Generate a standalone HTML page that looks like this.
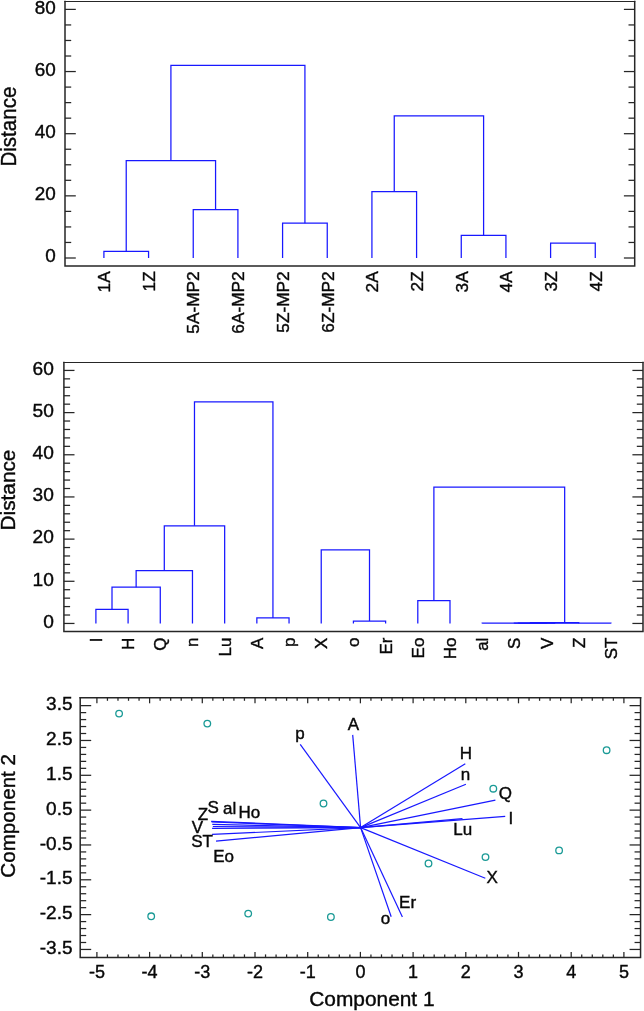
<!DOCTYPE html>
<html><head><meta charset="utf-8"><title>charts</title>
<style>
html,body{margin:0;padding:0;background:#fff;}
body{width:644px;height:1011px;overflow:hidden;}
svg{display:block;will-change:transform;}
text{font-family:"Liberation Sans",sans-serif;fill:#080808;stroke:#080808;stroke-width:0.4px;}
</style></head><body>
<svg width="644" height="1011" viewBox="0 0 644 1011">
<rect x="0" y="0" width="644" height="1011" fill="#fff"/>
<path d="M65.00,1.50V266.00H634.70V1.50" fill="none" stroke="#262626" stroke-width="1.5" stroke-linecap="square"/>
<path d="M65.00,1.50H634.70" fill="none" stroke="#262626" stroke-width="1.15" stroke-linecap="square"/>
<line x1="65.00" y1="258.00" x2="75.80" y2="258.00" stroke="#262626" stroke-width="1.25"/>
<line x1="634.70" y1="258.00" x2="623.90" y2="258.00" stroke="#262626" stroke-width="1.25"/>
<text transform="translate(55.70 262.30) scale(0.995 1)" font-size="19.0" text-anchor="end" >0</text>
<line x1="65.00" y1="242.46" x2="71.20" y2="242.46" stroke="#262626" stroke-width="1.25"/>
<line x1="634.70" y1="242.46" x2="628.50" y2="242.46" stroke="#262626" stroke-width="1.25"/>
<line x1="65.00" y1="226.93" x2="71.20" y2="226.93" stroke="#262626" stroke-width="1.25"/>
<line x1="634.70" y1="226.93" x2="628.50" y2="226.93" stroke="#262626" stroke-width="1.25"/>
<line x1="65.00" y1="211.39" x2="71.20" y2="211.39" stroke="#262626" stroke-width="1.25"/>
<line x1="634.70" y1="211.39" x2="628.50" y2="211.39" stroke="#262626" stroke-width="1.25"/>
<line x1="65.00" y1="195.85" x2="75.80" y2="195.85" stroke="#262626" stroke-width="1.25"/>
<line x1="634.70" y1="195.85" x2="623.90" y2="195.85" stroke="#262626" stroke-width="1.25"/>
<text transform="translate(55.70 200.15) scale(0.995 1)" font-size="19.0" text-anchor="end" >20</text>
<line x1="65.00" y1="180.31" x2="71.20" y2="180.31" stroke="#262626" stroke-width="1.25"/>
<line x1="634.70" y1="180.31" x2="628.50" y2="180.31" stroke="#262626" stroke-width="1.25"/>
<line x1="65.00" y1="164.78" x2="71.20" y2="164.78" stroke="#262626" stroke-width="1.25"/>
<line x1="634.70" y1="164.78" x2="628.50" y2="164.78" stroke="#262626" stroke-width="1.25"/>
<line x1="65.00" y1="149.24" x2="71.20" y2="149.24" stroke="#262626" stroke-width="1.25"/>
<line x1="634.70" y1="149.24" x2="628.50" y2="149.24" stroke="#262626" stroke-width="1.25"/>
<line x1="65.00" y1="133.70" x2="75.80" y2="133.70" stroke="#262626" stroke-width="1.25"/>
<line x1="634.70" y1="133.70" x2="623.90" y2="133.70" stroke="#262626" stroke-width="1.25"/>
<text transform="translate(55.70 138.00) scale(0.995 1)" font-size="19.0" text-anchor="end" >40</text>
<line x1="65.00" y1="118.16" x2="71.20" y2="118.16" stroke="#262626" stroke-width="1.25"/>
<line x1="634.70" y1="118.16" x2="628.50" y2="118.16" stroke="#262626" stroke-width="1.25"/>
<line x1="65.00" y1="102.62" x2="71.20" y2="102.62" stroke="#262626" stroke-width="1.25"/>
<line x1="634.70" y1="102.62" x2="628.50" y2="102.62" stroke="#262626" stroke-width="1.25"/>
<line x1="65.00" y1="87.09" x2="71.20" y2="87.09" stroke="#262626" stroke-width="1.25"/>
<line x1="634.70" y1="87.09" x2="628.50" y2="87.09" stroke="#262626" stroke-width="1.25"/>
<line x1="65.00" y1="71.55" x2="75.80" y2="71.55" stroke="#262626" stroke-width="1.25"/>
<line x1="634.70" y1="71.55" x2="623.90" y2="71.55" stroke="#262626" stroke-width="1.25"/>
<text transform="translate(55.70 75.85) scale(0.995 1)" font-size="19.0" text-anchor="end" >60</text>
<line x1="65.00" y1="56.01" x2="71.20" y2="56.01" stroke="#262626" stroke-width="1.25"/>
<line x1="634.70" y1="56.01" x2="628.50" y2="56.01" stroke="#262626" stroke-width="1.25"/>
<line x1="65.00" y1="40.47" x2="71.20" y2="40.47" stroke="#262626" stroke-width="1.25"/>
<line x1="634.70" y1="40.47" x2="628.50" y2="40.47" stroke="#262626" stroke-width="1.25"/>
<line x1="65.00" y1="24.94" x2="71.20" y2="24.94" stroke="#262626" stroke-width="1.25"/>
<line x1="634.70" y1="24.94" x2="628.50" y2="24.94" stroke="#262626" stroke-width="1.25"/>
<line x1="65.00" y1="9.40" x2="75.80" y2="9.40" stroke="#262626" stroke-width="1.25"/>
<line x1="634.70" y1="9.40" x2="623.90" y2="9.40" stroke="#262626" stroke-width="1.25"/>
<text transform="translate(55.70 13.70) scale(0.995 1)" font-size="19.0" text-anchor="end" >80</text>
<text transform="translate(15.80 126.60) rotate(-90) scale(0.952 1)" font-size="21.6" text-anchor="middle" >Distance</text>
<text transform="translate(110.15 271.30) rotate(-90) scale(1.047 1)" font-size="16.5" text-anchor="end" >1A</text>
<text transform="translate(154.82 271.30) rotate(-90) scale(1.047 1)" font-size="16.5" text-anchor="end" >1Z</text>
<text transform="translate(199.49 271.30) rotate(-90) scale(1.047 1)" font-size="16.5" text-anchor="end" >5A-MP2</text>
<text transform="translate(244.16 271.30) rotate(-90) scale(1.047 1)" font-size="16.5" text-anchor="end" >6A-MP2</text>
<text transform="translate(288.83 271.30) rotate(-90) scale(1.047 1)" font-size="16.5" text-anchor="end" >5Z-MP2</text>
<text transform="translate(333.50 271.30) rotate(-90) scale(1.047 1)" font-size="16.5" text-anchor="end" >6Z-MP2</text>
<text transform="translate(378.17 271.30) rotate(-90) scale(1.047 1)" font-size="16.5" text-anchor="end" >2A</text>
<text transform="translate(422.84 271.30) rotate(-90) scale(1.047 1)" font-size="16.5" text-anchor="end" >2Z</text>
<text transform="translate(467.51 271.30) rotate(-90) scale(1.047 1)" font-size="16.5" text-anchor="end" >3A</text>
<text transform="translate(512.18 271.30) rotate(-90) scale(1.047 1)" font-size="16.5" text-anchor="end" >4A</text>
<text transform="translate(556.85 271.30) rotate(-90) scale(1.047 1)" font-size="16.5" text-anchor="end" >3Z</text>
<text transform="translate(601.52 271.30) rotate(-90) scale(1.047 1)" font-size="16.5" text-anchor="end" >4Z</text>
<polyline points="103.90,258.00 103.90,251.47 148.57,251.47 148.57,258.00" fill="none" stroke="#1818ff" stroke-width="1.25"/>
<polyline points="193.24,258.00 193.24,209.52 237.91,209.52 237.91,258.00" fill="none" stroke="#1818ff" stroke-width="1.25"/>
<polyline points="282.58,258.00 282.58,223.20 327.25,223.20 327.25,258.00" fill="none" stroke="#1818ff" stroke-width="1.25"/>
<polyline points="126.23,251.47 126.23,160.58 215.57,160.58 215.57,209.52" fill="none" stroke="#1818ff" stroke-width="1.25"/>
<polyline points="170.91,160.58 170.91,65.34 304.92,65.34 304.92,223.20" fill="none" stroke="#1818ff" stroke-width="1.25"/>
<polyline points="371.92,258.00 371.92,191.50 416.59,191.50 416.59,258.00" fill="none" stroke="#1818ff" stroke-width="1.25"/>
<polyline points="461.26,258.00 461.26,235.47 505.93,235.47 505.93,258.00" fill="none" stroke="#1818ff" stroke-width="1.25"/>
<polyline points="394.25,191.50 394.25,115.83 483.60,115.83 483.60,235.47" fill="none" stroke="#1818ff" stroke-width="1.25"/>
<polyline points="550.60,258.00 550.60,243.24 595.27,243.24 595.27,258.00" fill="none" stroke="#1818ff" stroke-width="1.25"/>
<path d="M63.90,362.50V631.45H643.00V362.50" fill="none" stroke="#262626" stroke-width="1.5" stroke-linecap="square"/>
<path d="M63.90,362.50H643.00" fill="none" stroke="#262626" stroke-width="1.15" stroke-linecap="square"/>
<line x1="63.90" y1="623.45" x2="74.50" y2="623.45" stroke="#262626" stroke-width="1.25"/>
<line x1="643.00" y1="623.45" x2="632.40" y2="623.45" stroke="#262626" stroke-width="1.25"/>
<text transform="translate(53.90 627.75) scale(1.04 1)" font-size="18.4" text-anchor="end" >0</text>
<line x1="63.90" y1="615.02" x2="70.10" y2="615.02" stroke="#262626" stroke-width="1.25"/>
<line x1="643.00" y1="615.02" x2="636.80" y2="615.02" stroke="#262626" stroke-width="1.25"/>
<line x1="63.90" y1="606.58" x2="70.10" y2="606.58" stroke="#262626" stroke-width="1.25"/>
<line x1="643.00" y1="606.58" x2="636.80" y2="606.58" stroke="#262626" stroke-width="1.25"/>
<line x1="63.90" y1="598.15" x2="70.10" y2="598.15" stroke="#262626" stroke-width="1.25"/>
<line x1="643.00" y1="598.15" x2="636.80" y2="598.15" stroke="#262626" stroke-width="1.25"/>
<line x1="63.90" y1="589.71" x2="70.10" y2="589.71" stroke="#262626" stroke-width="1.25"/>
<line x1="643.00" y1="589.71" x2="636.80" y2="589.71" stroke="#262626" stroke-width="1.25"/>
<line x1="63.90" y1="581.28" x2="74.50" y2="581.28" stroke="#262626" stroke-width="1.25"/>
<line x1="643.00" y1="581.28" x2="632.40" y2="581.28" stroke="#262626" stroke-width="1.25"/>
<text transform="translate(53.90 585.58) scale(1.04 1)" font-size="18.4" text-anchor="end" >10</text>
<line x1="63.90" y1="572.85" x2="70.10" y2="572.85" stroke="#262626" stroke-width="1.25"/>
<line x1="643.00" y1="572.85" x2="636.80" y2="572.85" stroke="#262626" stroke-width="1.25"/>
<line x1="63.90" y1="564.41" x2="70.10" y2="564.41" stroke="#262626" stroke-width="1.25"/>
<line x1="643.00" y1="564.41" x2="636.80" y2="564.41" stroke="#262626" stroke-width="1.25"/>
<line x1="63.90" y1="555.98" x2="70.10" y2="555.98" stroke="#262626" stroke-width="1.25"/>
<line x1="643.00" y1="555.98" x2="636.80" y2="555.98" stroke="#262626" stroke-width="1.25"/>
<line x1="63.90" y1="547.54" x2="70.10" y2="547.54" stroke="#262626" stroke-width="1.25"/>
<line x1="643.00" y1="547.54" x2="636.80" y2="547.54" stroke="#262626" stroke-width="1.25"/>
<line x1="63.90" y1="539.11" x2="74.50" y2="539.11" stroke="#262626" stroke-width="1.25"/>
<line x1="643.00" y1="539.11" x2="632.40" y2="539.11" stroke="#262626" stroke-width="1.25"/>
<text transform="translate(53.90 543.41) scale(1.04 1)" font-size="18.4" text-anchor="end" >20</text>
<line x1="63.90" y1="530.68" x2="70.10" y2="530.68" stroke="#262626" stroke-width="1.25"/>
<line x1="643.00" y1="530.68" x2="636.80" y2="530.68" stroke="#262626" stroke-width="1.25"/>
<line x1="63.90" y1="522.24" x2="70.10" y2="522.24" stroke="#262626" stroke-width="1.25"/>
<line x1="643.00" y1="522.24" x2="636.80" y2="522.24" stroke="#262626" stroke-width="1.25"/>
<line x1="63.90" y1="513.81" x2="70.10" y2="513.81" stroke="#262626" stroke-width="1.25"/>
<line x1="643.00" y1="513.81" x2="636.80" y2="513.81" stroke="#262626" stroke-width="1.25"/>
<line x1="63.90" y1="505.37" x2="70.10" y2="505.37" stroke="#262626" stroke-width="1.25"/>
<line x1="643.00" y1="505.37" x2="636.80" y2="505.37" stroke="#262626" stroke-width="1.25"/>
<line x1="63.90" y1="496.94" x2="74.50" y2="496.94" stroke="#262626" stroke-width="1.25"/>
<line x1="643.00" y1="496.94" x2="632.40" y2="496.94" stroke="#262626" stroke-width="1.25"/>
<text transform="translate(53.90 501.24) scale(1.04 1)" font-size="18.4" text-anchor="end" >30</text>
<line x1="63.90" y1="488.51" x2="70.10" y2="488.51" stroke="#262626" stroke-width="1.25"/>
<line x1="643.00" y1="488.51" x2="636.80" y2="488.51" stroke="#262626" stroke-width="1.25"/>
<line x1="63.90" y1="480.07" x2="70.10" y2="480.07" stroke="#262626" stroke-width="1.25"/>
<line x1="643.00" y1="480.07" x2="636.80" y2="480.07" stroke="#262626" stroke-width="1.25"/>
<line x1="63.90" y1="471.64" x2="70.10" y2="471.64" stroke="#262626" stroke-width="1.25"/>
<line x1="643.00" y1="471.64" x2="636.80" y2="471.64" stroke="#262626" stroke-width="1.25"/>
<line x1="63.90" y1="463.20" x2="70.10" y2="463.20" stroke="#262626" stroke-width="1.25"/>
<line x1="643.00" y1="463.20" x2="636.80" y2="463.20" stroke="#262626" stroke-width="1.25"/>
<line x1="63.90" y1="454.77" x2="74.50" y2="454.77" stroke="#262626" stroke-width="1.25"/>
<line x1="643.00" y1="454.77" x2="632.40" y2="454.77" stroke="#262626" stroke-width="1.25"/>
<text transform="translate(53.90 459.07) scale(1.04 1)" font-size="18.4" text-anchor="end" >40</text>
<line x1="63.90" y1="446.34" x2="70.10" y2="446.34" stroke="#262626" stroke-width="1.25"/>
<line x1="643.00" y1="446.34" x2="636.80" y2="446.34" stroke="#262626" stroke-width="1.25"/>
<line x1="63.90" y1="437.90" x2="70.10" y2="437.90" stroke="#262626" stroke-width="1.25"/>
<line x1="643.00" y1="437.90" x2="636.80" y2="437.90" stroke="#262626" stroke-width="1.25"/>
<line x1="63.90" y1="429.47" x2="70.10" y2="429.47" stroke="#262626" stroke-width="1.25"/>
<line x1="643.00" y1="429.47" x2="636.80" y2="429.47" stroke="#262626" stroke-width="1.25"/>
<line x1="63.90" y1="421.03" x2="70.10" y2="421.03" stroke="#262626" stroke-width="1.25"/>
<line x1="643.00" y1="421.03" x2="636.80" y2="421.03" stroke="#262626" stroke-width="1.25"/>
<line x1="63.90" y1="412.60" x2="74.50" y2="412.60" stroke="#262626" stroke-width="1.25"/>
<line x1="643.00" y1="412.60" x2="632.40" y2="412.60" stroke="#262626" stroke-width="1.25"/>
<text transform="translate(53.90 416.90) scale(1.04 1)" font-size="18.4" text-anchor="end" >50</text>
<line x1="63.90" y1="404.17" x2="70.10" y2="404.17" stroke="#262626" stroke-width="1.25"/>
<line x1="643.00" y1="404.17" x2="636.80" y2="404.17" stroke="#262626" stroke-width="1.25"/>
<line x1="63.90" y1="395.73" x2="70.10" y2="395.73" stroke="#262626" stroke-width="1.25"/>
<line x1="643.00" y1="395.73" x2="636.80" y2="395.73" stroke="#262626" stroke-width="1.25"/>
<line x1="63.90" y1="387.30" x2="70.10" y2="387.30" stroke="#262626" stroke-width="1.25"/>
<line x1="643.00" y1="387.30" x2="636.80" y2="387.30" stroke="#262626" stroke-width="1.25"/>
<line x1="63.90" y1="378.86" x2="70.10" y2="378.86" stroke="#262626" stroke-width="1.25"/>
<line x1="643.00" y1="378.86" x2="636.80" y2="378.86" stroke="#262626" stroke-width="1.25"/>
<line x1="63.90" y1="370.43" x2="74.50" y2="370.43" stroke="#262626" stroke-width="1.25"/>
<line x1="643.00" y1="370.43" x2="632.40" y2="370.43" stroke="#262626" stroke-width="1.25"/>
<text transform="translate(53.90 374.73) scale(1.04 1)" font-size="18.4" text-anchor="end" >60</text>
<text transform="translate(14.50 490.00) rotate(-90) scale(1.045 1)" font-size="19.9" text-anchor="middle" >Distance</text>
<text transform="translate(101.90 637.60) rotate(-90)" font-size="17" text-anchor="end" >I</text>
<text transform="translate(134.09 637.60) rotate(-90)" font-size="17" text-anchor="end" >H</text>
<text transform="translate(166.28 637.60) rotate(-90)" font-size="17" text-anchor="end" >Q</text>
<text transform="translate(198.47 637.60) rotate(-90)" font-size="17" text-anchor="end" >n</text>
<text transform="translate(230.66 637.60) rotate(-90)" font-size="17" text-anchor="end" >Lu</text>
<text transform="translate(262.85 637.60) rotate(-90)" font-size="17" text-anchor="end" >A</text>
<text transform="translate(295.04 637.60) rotate(-90)" font-size="17" text-anchor="end" >p</text>
<text transform="translate(327.23 637.60) rotate(-90)" font-size="17" text-anchor="end" >X</text>
<text transform="translate(359.42 637.60) rotate(-90)" font-size="17" text-anchor="end" >o</text>
<text transform="translate(391.61 637.60) rotate(-90)" font-size="17" text-anchor="end" >Er</text>
<text transform="translate(423.80 637.60) rotate(-90)" font-size="17" text-anchor="end" >Eo</text>
<text transform="translate(455.99 637.60) rotate(-90)" font-size="17" text-anchor="end" >Ho</text>
<text transform="translate(488.18 637.60) rotate(-90)" font-size="17" text-anchor="end" >al</text>
<text transform="translate(520.37 637.60) rotate(-90)" font-size="17" text-anchor="end" >S</text>
<text transform="translate(552.56 637.60) rotate(-90)" font-size="17" text-anchor="end" >V</text>
<text transform="translate(584.75 637.60) rotate(-90)" font-size="17" text-anchor="end" >Z</text>
<text transform="translate(616.94 637.60) rotate(-90)" font-size="17" text-anchor="end" >ST</text>
<polyline points="95.90,623.45 95.90,609.32 128.09,609.32 128.09,623.45" fill="none" stroke="#1818ff" stroke-width="1.25"/>
<polyline points="112.00,609.32 112.00,587.18 160.28,587.18 160.28,623.45" fill="none" stroke="#1818ff" stroke-width="1.25"/>
<polyline points="136.14,587.18 136.14,570.74 192.47,570.74 192.47,623.45" fill="none" stroke="#1818ff" stroke-width="1.25"/>
<polyline points="164.30,570.74 164.30,525.78 224.66,525.78 224.66,623.45" fill="none" stroke="#1818ff" stroke-width="1.25"/>
<polyline points="256.85,623.45 256.85,617.97 289.04,617.97 289.04,623.45" fill="none" stroke="#1818ff" stroke-width="1.25"/>
<polyline points="194.48,525.78 194.48,401.97 272.94,401.97 272.94,617.97" fill="none" stroke="#1818ff" stroke-width="1.25"/>
<polyline points="353.42,623.45 353.42,621.05 385.61,621.05 385.61,623.45" fill="none" stroke="#1818ff" stroke-width="1.25"/>
<polyline points="321.23,623.45 321.23,549.86 369.51,549.86 369.51,621.05" fill="none" stroke="#1818ff" stroke-width="1.25"/>
<polyline points="417.80,623.45 417.80,600.68 449.99,600.68 449.99,623.45" fill="none" stroke="#1818ff" stroke-width="1.25"/>
<polyline points="514.37,623.45 514.37,623.24 546.56,623.24 546.56,623.45" fill="none" stroke="#1818ff" stroke-width="1.25"/>
<polyline points="530.46,623.24 530.46,622.61 578.75,622.61 578.75,623.45" fill="none" stroke="#1818ff" stroke-width="1.25"/>
<polyline points="482.18,623.45 482.18,623.11 554.61,623.11 554.61,622.61" fill="none" stroke="#1818ff" stroke-width="1.25"/>
<polyline points="518.39,623.11 518.39,623.03 610.94,623.03 610.94,623.45" fill="none" stroke="#1818ff" stroke-width="1.25"/>
<polyline points="433.89,600.68 433.89,487.03 564.67,487.03 564.67,623.03" fill="none" stroke="#1818ff" stroke-width="1.25"/>
<path d="M80.20,697.80V957.40H640.55V697.80" fill="none" stroke="#262626" stroke-width="1.5" stroke-linecap="square"/>
<path d="M80.20,697.80H640.55" fill="none" stroke="#262626" stroke-width="1.5" stroke-linecap="square"/>
<line x1="80.20" y1="949.45" x2="91.20" y2="949.45" stroke="#262626" stroke-width="1.25"/>
<line x1="640.55" y1="949.45" x2="629.55" y2="949.45" stroke="#262626" stroke-width="1.25"/>
<text transform="translate(72.50 954.10) scale(1.017 1)" font-size="18.7" text-anchor="end" >-3.5</text>
<line x1="80.20" y1="942.49" x2="86.20" y2="942.49" stroke="#262626" stroke-width="1.25"/>
<line x1="640.55" y1="942.49" x2="634.55" y2="942.49" stroke="#262626" stroke-width="1.25"/>
<line x1="80.20" y1="935.52" x2="86.20" y2="935.52" stroke="#262626" stroke-width="1.25"/>
<line x1="640.55" y1="935.52" x2="634.55" y2="935.52" stroke="#262626" stroke-width="1.25"/>
<line x1="80.20" y1="928.56" x2="86.20" y2="928.56" stroke="#262626" stroke-width="1.25"/>
<line x1="640.55" y1="928.56" x2="634.55" y2="928.56" stroke="#262626" stroke-width="1.25"/>
<line x1="80.20" y1="921.59" x2="86.20" y2="921.59" stroke="#262626" stroke-width="1.25"/>
<line x1="640.55" y1="921.59" x2="634.55" y2="921.59" stroke="#262626" stroke-width="1.25"/>
<line x1="80.20" y1="914.62" x2="91.20" y2="914.62" stroke="#262626" stroke-width="1.25"/>
<line x1="640.55" y1="914.62" x2="629.55" y2="914.62" stroke="#262626" stroke-width="1.25"/>
<text transform="translate(72.50 919.27) scale(1.017 1)" font-size="18.7" text-anchor="end" >-2.5</text>
<line x1="80.20" y1="907.66" x2="86.20" y2="907.66" stroke="#262626" stroke-width="1.25"/>
<line x1="640.55" y1="907.66" x2="634.55" y2="907.66" stroke="#262626" stroke-width="1.25"/>
<line x1="80.20" y1="900.69" x2="86.20" y2="900.69" stroke="#262626" stroke-width="1.25"/>
<line x1="640.55" y1="900.69" x2="634.55" y2="900.69" stroke="#262626" stroke-width="1.25"/>
<line x1="80.20" y1="893.73" x2="86.20" y2="893.73" stroke="#262626" stroke-width="1.25"/>
<line x1="640.55" y1="893.73" x2="634.55" y2="893.73" stroke="#262626" stroke-width="1.25"/>
<line x1="80.20" y1="886.76" x2="86.20" y2="886.76" stroke="#262626" stroke-width="1.25"/>
<line x1="640.55" y1="886.76" x2="634.55" y2="886.76" stroke="#262626" stroke-width="1.25"/>
<line x1="80.20" y1="879.79" x2="91.20" y2="879.79" stroke="#262626" stroke-width="1.25"/>
<line x1="640.55" y1="879.79" x2="629.55" y2="879.79" stroke="#262626" stroke-width="1.25"/>
<text transform="translate(72.50 884.44) scale(1.017 1)" font-size="18.7" text-anchor="end" >-1.5</text>
<line x1="80.20" y1="872.83" x2="86.20" y2="872.83" stroke="#262626" stroke-width="1.25"/>
<line x1="640.55" y1="872.83" x2="634.55" y2="872.83" stroke="#262626" stroke-width="1.25"/>
<line x1="80.20" y1="865.86" x2="86.20" y2="865.86" stroke="#262626" stroke-width="1.25"/>
<line x1="640.55" y1="865.86" x2="634.55" y2="865.86" stroke="#262626" stroke-width="1.25"/>
<line x1="80.20" y1="858.90" x2="86.20" y2="858.90" stroke="#262626" stroke-width="1.25"/>
<line x1="640.55" y1="858.90" x2="634.55" y2="858.90" stroke="#262626" stroke-width="1.25"/>
<line x1="80.20" y1="851.93" x2="86.20" y2="851.93" stroke="#262626" stroke-width="1.25"/>
<line x1="640.55" y1="851.93" x2="634.55" y2="851.93" stroke="#262626" stroke-width="1.25"/>
<line x1="80.20" y1="844.96" x2="91.20" y2="844.96" stroke="#262626" stroke-width="1.25"/>
<line x1="640.55" y1="844.96" x2="629.55" y2="844.96" stroke="#262626" stroke-width="1.25"/>
<text transform="translate(72.50 849.61) scale(1.017 1)" font-size="18.7" text-anchor="end" >-0.5</text>
<line x1="80.20" y1="838.00" x2="86.20" y2="838.00" stroke="#262626" stroke-width="1.25"/>
<line x1="640.55" y1="838.00" x2="634.55" y2="838.00" stroke="#262626" stroke-width="1.25"/>
<line x1="80.20" y1="831.03" x2="86.20" y2="831.03" stroke="#262626" stroke-width="1.25"/>
<line x1="640.55" y1="831.03" x2="634.55" y2="831.03" stroke="#262626" stroke-width="1.25"/>
<line x1="80.20" y1="824.07" x2="86.20" y2="824.07" stroke="#262626" stroke-width="1.25"/>
<line x1="640.55" y1="824.07" x2="634.55" y2="824.07" stroke="#262626" stroke-width="1.25"/>
<line x1="80.20" y1="817.10" x2="86.20" y2="817.10" stroke="#262626" stroke-width="1.25"/>
<line x1="640.55" y1="817.10" x2="634.55" y2="817.10" stroke="#262626" stroke-width="1.25"/>
<line x1="80.20" y1="810.13" x2="91.20" y2="810.13" stroke="#262626" stroke-width="1.25"/>
<line x1="640.55" y1="810.13" x2="629.55" y2="810.13" stroke="#262626" stroke-width="1.25"/>
<text transform="translate(72.50 814.78) scale(1.017 1)" font-size="18.7" text-anchor="end" >0.5</text>
<line x1="80.20" y1="803.17" x2="86.20" y2="803.17" stroke="#262626" stroke-width="1.25"/>
<line x1="640.55" y1="803.17" x2="634.55" y2="803.17" stroke="#262626" stroke-width="1.25"/>
<line x1="80.20" y1="796.20" x2="86.20" y2="796.20" stroke="#262626" stroke-width="1.25"/>
<line x1="640.55" y1="796.20" x2="634.55" y2="796.20" stroke="#262626" stroke-width="1.25"/>
<line x1="80.20" y1="789.24" x2="86.20" y2="789.24" stroke="#262626" stroke-width="1.25"/>
<line x1="640.55" y1="789.24" x2="634.55" y2="789.24" stroke="#262626" stroke-width="1.25"/>
<line x1="80.20" y1="782.27" x2="86.20" y2="782.27" stroke="#262626" stroke-width="1.25"/>
<line x1="640.55" y1="782.27" x2="634.55" y2="782.27" stroke="#262626" stroke-width="1.25"/>
<line x1="80.20" y1="775.30" x2="91.20" y2="775.30" stroke="#262626" stroke-width="1.25"/>
<line x1="640.55" y1="775.30" x2="629.55" y2="775.30" stroke="#262626" stroke-width="1.25"/>
<text transform="translate(72.50 779.95) scale(1.017 1)" font-size="18.7" text-anchor="end" >1.5</text>
<line x1="80.20" y1="768.34" x2="86.20" y2="768.34" stroke="#262626" stroke-width="1.25"/>
<line x1="640.55" y1="768.34" x2="634.55" y2="768.34" stroke="#262626" stroke-width="1.25"/>
<line x1="80.20" y1="761.37" x2="86.20" y2="761.37" stroke="#262626" stroke-width="1.25"/>
<line x1="640.55" y1="761.37" x2="634.55" y2="761.37" stroke="#262626" stroke-width="1.25"/>
<line x1="80.20" y1="754.41" x2="86.20" y2="754.41" stroke="#262626" stroke-width="1.25"/>
<line x1="640.55" y1="754.41" x2="634.55" y2="754.41" stroke="#262626" stroke-width="1.25"/>
<line x1="80.20" y1="747.44" x2="86.20" y2="747.44" stroke="#262626" stroke-width="1.25"/>
<line x1="640.55" y1="747.44" x2="634.55" y2="747.44" stroke="#262626" stroke-width="1.25"/>
<line x1="80.20" y1="740.47" x2="91.20" y2="740.47" stroke="#262626" stroke-width="1.25"/>
<line x1="640.55" y1="740.47" x2="629.55" y2="740.47" stroke="#262626" stroke-width="1.25"/>
<text transform="translate(72.50 745.12) scale(1.017 1)" font-size="18.7" text-anchor="end" >2.5</text>
<line x1="80.20" y1="733.51" x2="86.20" y2="733.51" stroke="#262626" stroke-width="1.25"/>
<line x1="640.55" y1="733.51" x2="634.55" y2="733.51" stroke="#262626" stroke-width="1.25"/>
<line x1="80.20" y1="726.54" x2="86.20" y2="726.54" stroke="#262626" stroke-width="1.25"/>
<line x1="640.55" y1="726.54" x2="634.55" y2="726.54" stroke="#262626" stroke-width="1.25"/>
<line x1="80.20" y1="719.58" x2="86.20" y2="719.58" stroke="#262626" stroke-width="1.25"/>
<line x1="640.55" y1="719.58" x2="634.55" y2="719.58" stroke="#262626" stroke-width="1.25"/>
<line x1="80.20" y1="712.61" x2="86.20" y2="712.61" stroke="#262626" stroke-width="1.25"/>
<line x1="640.55" y1="712.61" x2="634.55" y2="712.61" stroke="#262626" stroke-width="1.25"/>
<line x1="80.20" y1="705.64" x2="91.20" y2="705.64" stroke="#262626" stroke-width="1.25"/>
<line x1="640.55" y1="705.64" x2="629.55" y2="705.64" stroke="#262626" stroke-width="1.25"/>
<text transform="translate(72.50 710.29) scale(1.017 1)" font-size="18.7" text-anchor="end" >3.5</text>
<line x1="96.90" y1="957.40" x2="96.90" y2="951.90" stroke="#262626" stroke-width="1.25"/>
<line x1="96.90" y1="697.80" x2="96.90" y2="703.30" stroke="#262626" stroke-width="1.25"/>
<text transform="translate(96.90 977.80)" font-size="18" text-anchor="middle" >-5</text>
<line x1="107.44" y1="957.40" x2="107.44" y2="954.40" stroke="#262626" stroke-width="1.25"/>
<line x1="107.44" y1="697.80" x2="107.44" y2="700.80" stroke="#262626" stroke-width="1.25"/>
<line x1="117.98" y1="957.40" x2="117.98" y2="954.40" stroke="#262626" stroke-width="1.25"/>
<line x1="117.98" y1="697.80" x2="117.98" y2="700.80" stroke="#262626" stroke-width="1.25"/>
<line x1="128.52" y1="957.40" x2="128.52" y2="954.40" stroke="#262626" stroke-width="1.25"/>
<line x1="128.52" y1="697.80" x2="128.52" y2="700.80" stroke="#262626" stroke-width="1.25"/>
<line x1="139.06" y1="957.40" x2="139.06" y2="954.40" stroke="#262626" stroke-width="1.25"/>
<line x1="139.06" y1="697.80" x2="139.06" y2="700.80" stroke="#262626" stroke-width="1.25"/>
<line x1="149.60" y1="957.40" x2="149.60" y2="951.90" stroke="#262626" stroke-width="1.25"/>
<line x1="149.60" y1="697.80" x2="149.60" y2="703.30" stroke="#262626" stroke-width="1.25"/>
<text transform="translate(149.60 977.80)" font-size="18" text-anchor="middle" >-4</text>
<line x1="160.14" y1="957.40" x2="160.14" y2="954.40" stroke="#262626" stroke-width="1.25"/>
<line x1="160.14" y1="697.80" x2="160.14" y2="700.80" stroke="#262626" stroke-width="1.25"/>
<line x1="170.68" y1="957.40" x2="170.68" y2="954.40" stroke="#262626" stroke-width="1.25"/>
<line x1="170.68" y1="697.80" x2="170.68" y2="700.80" stroke="#262626" stroke-width="1.25"/>
<line x1="181.22" y1="957.40" x2="181.22" y2="954.40" stroke="#262626" stroke-width="1.25"/>
<line x1="181.22" y1="697.80" x2="181.22" y2="700.80" stroke="#262626" stroke-width="1.25"/>
<line x1="191.76" y1="957.40" x2="191.76" y2="954.40" stroke="#262626" stroke-width="1.25"/>
<line x1="191.76" y1="697.80" x2="191.76" y2="700.80" stroke="#262626" stroke-width="1.25"/>
<line x1="202.30" y1="957.40" x2="202.30" y2="951.90" stroke="#262626" stroke-width="1.25"/>
<line x1="202.30" y1="697.80" x2="202.30" y2="703.30" stroke="#262626" stroke-width="1.25"/>
<text transform="translate(202.30 977.80)" font-size="18" text-anchor="middle" >-3</text>
<line x1="212.84" y1="957.40" x2="212.84" y2="954.40" stroke="#262626" stroke-width="1.25"/>
<line x1="212.84" y1="697.80" x2="212.84" y2="700.80" stroke="#262626" stroke-width="1.25"/>
<line x1="223.38" y1="957.40" x2="223.38" y2="954.40" stroke="#262626" stroke-width="1.25"/>
<line x1="223.38" y1="697.80" x2="223.38" y2="700.80" stroke="#262626" stroke-width="1.25"/>
<line x1="233.92" y1="957.40" x2="233.92" y2="954.40" stroke="#262626" stroke-width="1.25"/>
<line x1="233.92" y1="697.80" x2="233.92" y2="700.80" stroke="#262626" stroke-width="1.25"/>
<line x1="244.46" y1="957.40" x2="244.46" y2="954.40" stroke="#262626" stroke-width="1.25"/>
<line x1="244.46" y1="697.80" x2="244.46" y2="700.80" stroke="#262626" stroke-width="1.25"/>
<line x1="255.00" y1="957.40" x2="255.00" y2="951.90" stroke="#262626" stroke-width="1.25"/>
<line x1="255.00" y1="697.80" x2="255.00" y2="703.30" stroke="#262626" stroke-width="1.25"/>
<text transform="translate(255.00 977.80)" font-size="18" text-anchor="middle" >-2</text>
<line x1="265.54" y1="957.40" x2="265.54" y2="954.40" stroke="#262626" stroke-width="1.25"/>
<line x1="265.54" y1="697.80" x2="265.54" y2="700.80" stroke="#262626" stroke-width="1.25"/>
<line x1="276.08" y1="957.40" x2="276.08" y2="954.40" stroke="#262626" stroke-width="1.25"/>
<line x1="276.08" y1="697.80" x2="276.08" y2="700.80" stroke="#262626" stroke-width="1.25"/>
<line x1="286.62" y1="957.40" x2="286.62" y2="954.40" stroke="#262626" stroke-width="1.25"/>
<line x1="286.62" y1="697.80" x2="286.62" y2="700.80" stroke="#262626" stroke-width="1.25"/>
<line x1="297.16" y1="957.40" x2="297.16" y2="954.40" stroke="#262626" stroke-width="1.25"/>
<line x1="297.16" y1="697.80" x2="297.16" y2="700.80" stroke="#262626" stroke-width="1.25"/>
<line x1="307.70" y1="957.40" x2="307.70" y2="951.90" stroke="#262626" stroke-width="1.25"/>
<line x1="307.70" y1="697.80" x2="307.70" y2="703.30" stroke="#262626" stroke-width="1.25"/>
<text transform="translate(307.70 977.80)" font-size="18" text-anchor="middle" >-1</text>
<line x1="318.24" y1="957.40" x2="318.24" y2="954.40" stroke="#262626" stroke-width="1.25"/>
<line x1="318.24" y1="697.80" x2="318.24" y2="700.80" stroke="#262626" stroke-width="1.25"/>
<line x1="328.78" y1="957.40" x2="328.78" y2="954.40" stroke="#262626" stroke-width="1.25"/>
<line x1="328.78" y1="697.80" x2="328.78" y2="700.80" stroke="#262626" stroke-width="1.25"/>
<line x1="339.32" y1="957.40" x2="339.32" y2="954.40" stroke="#262626" stroke-width="1.25"/>
<line x1="339.32" y1="697.80" x2="339.32" y2="700.80" stroke="#262626" stroke-width="1.25"/>
<line x1="349.86" y1="957.40" x2="349.86" y2="954.40" stroke="#262626" stroke-width="1.25"/>
<line x1="349.86" y1="697.80" x2="349.86" y2="700.80" stroke="#262626" stroke-width="1.25"/>
<line x1="360.40" y1="957.40" x2="360.40" y2="951.90" stroke="#262626" stroke-width="1.25"/>
<line x1="360.40" y1="697.80" x2="360.40" y2="703.30" stroke="#262626" stroke-width="1.25"/>
<text transform="translate(360.40 977.80)" font-size="18" text-anchor="middle" >0</text>
<line x1="370.94" y1="957.40" x2="370.94" y2="954.40" stroke="#262626" stroke-width="1.25"/>
<line x1="370.94" y1="697.80" x2="370.94" y2="700.80" stroke="#262626" stroke-width="1.25"/>
<line x1="381.48" y1="957.40" x2="381.48" y2="954.40" stroke="#262626" stroke-width="1.25"/>
<line x1="381.48" y1="697.80" x2="381.48" y2="700.80" stroke="#262626" stroke-width="1.25"/>
<line x1="392.02" y1="957.40" x2="392.02" y2="954.40" stroke="#262626" stroke-width="1.25"/>
<line x1="392.02" y1="697.80" x2="392.02" y2="700.80" stroke="#262626" stroke-width="1.25"/>
<line x1="402.56" y1="957.40" x2="402.56" y2="954.40" stroke="#262626" stroke-width="1.25"/>
<line x1="402.56" y1="697.80" x2="402.56" y2="700.80" stroke="#262626" stroke-width="1.25"/>
<line x1="413.10" y1="957.40" x2="413.10" y2="951.90" stroke="#262626" stroke-width="1.25"/>
<line x1="413.10" y1="697.80" x2="413.10" y2="703.30" stroke="#262626" stroke-width="1.25"/>
<text transform="translate(413.10 977.80)" font-size="18" text-anchor="middle" >1</text>
<line x1="423.64" y1="957.40" x2="423.64" y2="954.40" stroke="#262626" stroke-width="1.25"/>
<line x1="423.64" y1="697.80" x2="423.64" y2="700.80" stroke="#262626" stroke-width="1.25"/>
<line x1="434.18" y1="957.40" x2="434.18" y2="954.40" stroke="#262626" stroke-width="1.25"/>
<line x1="434.18" y1="697.80" x2="434.18" y2="700.80" stroke="#262626" stroke-width="1.25"/>
<line x1="444.72" y1="957.40" x2="444.72" y2="954.40" stroke="#262626" stroke-width="1.25"/>
<line x1="444.72" y1="697.80" x2="444.72" y2="700.80" stroke="#262626" stroke-width="1.25"/>
<line x1="455.26" y1="957.40" x2="455.26" y2="954.40" stroke="#262626" stroke-width="1.25"/>
<line x1="455.26" y1="697.80" x2="455.26" y2="700.80" stroke="#262626" stroke-width="1.25"/>
<line x1="465.80" y1="957.40" x2="465.80" y2="951.90" stroke="#262626" stroke-width="1.25"/>
<line x1="465.80" y1="697.80" x2="465.80" y2="703.30" stroke="#262626" stroke-width="1.25"/>
<text transform="translate(465.80 977.80)" font-size="18" text-anchor="middle" >2</text>
<line x1="476.34" y1="957.40" x2="476.34" y2="954.40" stroke="#262626" stroke-width="1.25"/>
<line x1="476.34" y1="697.80" x2="476.34" y2="700.80" stroke="#262626" stroke-width="1.25"/>
<line x1="486.88" y1="957.40" x2="486.88" y2="954.40" stroke="#262626" stroke-width="1.25"/>
<line x1="486.88" y1="697.80" x2="486.88" y2="700.80" stroke="#262626" stroke-width="1.25"/>
<line x1="497.42" y1="957.40" x2="497.42" y2="954.40" stroke="#262626" stroke-width="1.25"/>
<line x1="497.42" y1="697.80" x2="497.42" y2="700.80" stroke="#262626" stroke-width="1.25"/>
<line x1="507.96" y1="957.40" x2="507.96" y2="954.40" stroke="#262626" stroke-width="1.25"/>
<line x1="507.96" y1="697.80" x2="507.96" y2="700.80" stroke="#262626" stroke-width="1.25"/>
<line x1="518.50" y1="957.40" x2="518.50" y2="951.90" stroke="#262626" stroke-width="1.25"/>
<line x1="518.50" y1="697.80" x2="518.50" y2="703.30" stroke="#262626" stroke-width="1.25"/>
<text transform="translate(518.50 977.80)" font-size="18" text-anchor="middle" >3</text>
<line x1="529.04" y1="957.40" x2="529.04" y2="954.40" stroke="#262626" stroke-width="1.25"/>
<line x1="529.04" y1="697.80" x2="529.04" y2="700.80" stroke="#262626" stroke-width="1.25"/>
<line x1="539.58" y1="957.40" x2="539.58" y2="954.40" stroke="#262626" stroke-width="1.25"/>
<line x1="539.58" y1="697.80" x2="539.58" y2="700.80" stroke="#262626" stroke-width="1.25"/>
<line x1="550.12" y1="957.40" x2="550.12" y2="954.40" stroke="#262626" stroke-width="1.25"/>
<line x1="550.12" y1="697.80" x2="550.12" y2="700.80" stroke="#262626" stroke-width="1.25"/>
<line x1="560.66" y1="957.40" x2="560.66" y2="954.40" stroke="#262626" stroke-width="1.25"/>
<line x1="560.66" y1="697.80" x2="560.66" y2="700.80" stroke="#262626" stroke-width="1.25"/>
<line x1="571.20" y1="957.40" x2="571.20" y2="951.90" stroke="#262626" stroke-width="1.25"/>
<line x1="571.20" y1="697.80" x2="571.20" y2="703.30" stroke="#262626" stroke-width="1.25"/>
<text transform="translate(571.20 977.80)" font-size="18" text-anchor="middle" >4</text>
<line x1="581.74" y1="957.40" x2="581.74" y2="954.40" stroke="#262626" stroke-width="1.25"/>
<line x1="581.74" y1="697.80" x2="581.74" y2="700.80" stroke="#262626" stroke-width="1.25"/>
<line x1="592.28" y1="957.40" x2="592.28" y2="954.40" stroke="#262626" stroke-width="1.25"/>
<line x1="592.28" y1="697.80" x2="592.28" y2="700.80" stroke="#262626" stroke-width="1.25"/>
<line x1="602.82" y1="957.40" x2="602.82" y2="954.40" stroke="#262626" stroke-width="1.25"/>
<line x1="602.82" y1="697.80" x2="602.82" y2="700.80" stroke="#262626" stroke-width="1.25"/>
<line x1="613.36" y1="957.40" x2="613.36" y2="954.40" stroke="#262626" stroke-width="1.25"/>
<line x1="613.36" y1="697.80" x2="613.36" y2="700.80" stroke="#262626" stroke-width="1.25"/>
<line x1="623.90" y1="957.40" x2="623.90" y2="951.90" stroke="#262626" stroke-width="1.25"/>
<line x1="623.90" y1="697.80" x2="623.90" y2="703.30" stroke="#262626" stroke-width="1.25"/>
<text transform="translate(623.90 977.80)" font-size="18" text-anchor="middle" >5</text>
<text transform="translate(371.90 1006.10) scale(1.014 1)" font-size="20.6" text-anchor="middle" >Component 1</text>
<text transform="translate(15.00 815.80) rotate(-90)" font-size="20.6" text-anchor="middle" >Component 2</text>
<circle cx="119.10" cy="713.60" r="3.3" fill="none" stroke="#1a9a96" stroke-width="1.3"/>
<circle cx="207.30" cy="723.60" r="3.3" fill="none" stroke="#1a9a96" stroke-width="1.3"/>
<circle cx="606.60" cy="750.20" r="3.3" fill="none" stroke="#1a9a96" stroke-width="1.3"/>
<circle cx="493.30" cy="788.70" r="3.3" fill="none" stroke="#1a9a96" stroke-width="1.3"/>
<circle cx="323.50" cy="803.50" r="3.3" fill="none" stroke="#1a9a96" stroke-width="1.3"/>
<circle cx="559.10" cy="850.40" r="3.3" fill="none" stroke="#1a9a96" stroke-width="1.3"/>
<circle cx="485.50" cy="857.10" r="3.3" fill="none" stroke="#1a9a96" stroke-width="1.3"/>
<circle cx="428.50" cy="863.50" r="3.3" fill="none" stroke="#1a9a96" stroke-width="1.3"/>
<circle cx="151.20" cy="916.30" r="3.3" fill="none" stroke="#1a9a96" stroke-width="1.3"/>
<circle cx="248.20" cy="913.60" r="3.3" fill="none" stroke="#1a9a96" stroke-width="1.3"/>
<circle cx="330.90" cy="917.00" r="3.3" fill="none" stroke="#1a9a96" stroke-width="1.3"/>
<line x1="360.60" y1="827.60" x2="465.30" y2="763.70" stroke="#1818ff" stroke-width="1.2"/>
<line x1="360.60" y1="827.60" x2="465.90" y2="784.20" stroke="#1818ff" stroke-width="1.2"/>
<line x1="360.60" y1="827.60" x2="495.40" y2="800.10" stroke="#1818ff" stroke-width="1.2"/>
<line x1="360.60" y1="827.60" x2="505.20" y2="816.40" stroke="#1818ff" stroke-width="1.2"/>
<line x1="360.60" y1="827.60" x2="462.50" y2="818.70" stroke="#1818ff" stroke-width="1.2"/>
<line x1="360.60" y1="827.60" x2="485.30" y2="878.20" stroke="#1818ff" stroke-width="1.2"/>
<line x1="360.60" y1="827.60" x2="402.40" y2="917.10" stroke="#1818ff" stroke-width="1.2"/>
<line x1="360.60" y1="827.60" x2="391.20" y2="916.80" stroke="#1818ff" stroke-width="1.2"/>
<line x1="360.60" y1="827.60" x2="352.70" y2="734.90" stroke="#1818ff" stroke-width="1.2"/>
<line x1="360.60" y1="827.60" x2="300.20" y2="744.30" stroke="#1818ff" stroke-width="1.2"/>
<line x1="360.60" y1="827.60" x2="211.20" y2="821.30" stroke="#1818ff" stroke-width="1.2"/>
<line x1="360.60" y1="827.60" x2="211.50" y2="822.00" stroke="#1818ff" stroke-width="1.2"/>
<line x1="360.60" y1="827.60" x2="212.30" y2="824.40" stroke="#1818ff" stroke-width="1.2"/>
<line x1="360.60" y1="827.60" x2="212.80" y2="826.50" stroke="#1818ff" stroke-width="1.2"/>
<line x1="360.60" y1="827.60" x2="212.10" y2="828.35" stroke="#1818ff" stroke-width="1.2"/>
<line x1="360.60" y1="827.60" x2="212.10" y2="834.40" stroke="#1818ff" stroke-width="1.2"/>
<line x1="360.60" y1="827.60" x2="216.00" y2="841.20" stroke="#1818ff" stroke-width="1.2"/>
<text transform="translate(465.90 759.00)" font-size="17.0" text-anchor="middle" >H</text>
<text transform="translate(465.60 779.90)" font-size="17.0" text-anchor="middle" >n</text>
<text transform="translate(505.30 799.40)" font-size="17.0" text-anchor="middle" >Q</text>
<text transform="translate(510.90 823.60)" font-size="17.0" text-anchor="middle" >I</text>
<text transform="translate(462.70 834.50)" font-size="17.0" text-anchor="middle" >Lu</text>
<text transform="translate(492.20 882.70)" font-size="17.0" text-anchor="middle" >X</text>
<text transform="translate(407.60 907.60)" font-size="17.0" text-anchor="middle" >Er</text>
<text transform="translate(385.40 924.00)" font-size="17.0" text-anchor="middle" >o</text>
<text transform="translate(353.30 729.80)" font-size="17.0" text-anchor="middle" >A</text>
<text transform="translate(300.00 739.20)" font-size="17.0" text-anchor="middle" >p</text>
<text transform="translate(203.00 819.60)" font-size="17.0" text-anchor="middle" >Z</text>
<text transform="translate(213.20 812.90)" font-size="17.0" text-anchor="middle" >S</text>
<text transform="translate(229.60 813.60)" font-size="17.0" text-anchor="middle" >al</text>
<text transform="translate(249.40 817.70)" font-size="17.0" text-anchor="middle" >Ho</text>
<text transform="translate(197.40 832.70)" font-size="17.0" text-anchor="middle" >V</text>
<text transform="translate(202.00 847.20)" font-size="17.0" text-anchor="middle" >ST</text>
<text transform="translate(223.60 861.50)" font-size="17.0" text-anchor="middle" >Eo</text>
</svg>
</body></html>
